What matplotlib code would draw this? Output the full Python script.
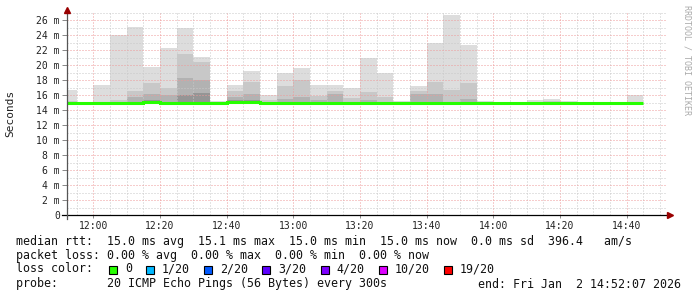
import numpy as np
import matplotlib.pyplot as plt
from matplotlib.patches import Rectangle
from matplotlib.ticker import MultipleLocator, FuncFormatter

plt.rcParams['font.family'] = 'DejaVu Sans Mono'

# 5 minute bins, start time of each bin
bin_start = ['11:50', '11:55', '12:00', '12:05', '12:10', '12:15', '12:20',
             '12:25', '12:30', '12:35', '12:40', '12:45', '12:50', '12:55',
             '13:00', '13:05', '13:10', '13:15', '13:20', '13:25', '13:30',
             '13:35', '13:40', '13:45', '13:50', '13:55', '14:00', '14:05',
             '14:10', '14:15', '14:20', '14:25', '14:30', '14:35', '14:40']
nan = np.nan
# smoke, in ms: lowest ping, highest ping and three inner levels
smoke_lo = [14.7, nan, 15.0, 15.0, 15.0, 15.0, 15.0, 15.0, 15.0, 15.0, 15.0, 15.0,
            14.9, 15.0, 15.0, 15.0, 15.0, 15.0, 15.0, 15.0, 15.0, 15.0, 15.0, 15.0,
            15.0, 15.0, nan, nan, 14.9, 14.7, 15.0, nan, nan, nan, 15.0]
smoke_hi = [16.7, nan, 17.3, 24.0, 25.1, 19.8, 22.3, 25.0, 21.1, 15.2, 17.3, 19.2,
            16.0, 18.9, 19.6, 17.4, 17.4, 17.0, 20.9, 19.0, 15.2, 17.2, 22.9, 26.6,
            22.6, 15.15, nan, nan, 15.35, 15.45, 15.2, nan, nan, nan, 16.0]
band1 = [15.2, nan, nan, 15.3, 16.5, 17.6, 16.9, 21.5, 20.4, nan, 16.5, 17.8,
         15.4, 17.2, 18.0, 15.9, 16.5, 15.6, 16.4, 15.8, nan, 16.5, 17.8, 16.6,
         17.6, nan, nan, nan, nan, 15.2, nan, nan, nan, nan, nan]
band2 = [nan, nan, nan, nan, 15.8, 16.2, 16.0, 18.3, 18.0, nan, 15.7, 16.1,
         nan, 15.5, 15.8, 15.3, 16.1, nan, 15.3, nan, nan, 16.1, 16.1, nan,
         15.5, nan, nan, nan, nan, nan, nan, nan, nan, nan, nan]
band3 = [nan, nan, nan, nan, nan, 15.3, nan, 16.0, 16.3, nan, 15.3, 15.4,
         nan, nan, nan, nan, nan, nan, nan, nan, nan, nan, nan, nan,
         nan, nan, nan, nan, nan, nan, nan, nan, nan, nan, nan]
median = [15.0, 15.0, 15.0, 15.0, 15.0, 15.1, 15.0, 15.0, 15.0, 15.0, 15.1, 15.1,
          15.0, 15.0, 15.0, 15.0, 15.0, 15.0, 15.0, 15.0, 15.0, 15.0, 15.0, 15.0,
          15.0, 15.0, 15.0, 15.0, 15.0, 15.0, 15.0, 15.0, 15.0, 15.0, 15.0]

x_ticks = ['12:00', '12:20', '12:40', '13:00', '13:20', '13:40', '14:00', '14:20', '14:40']
loss_labels = ['0', '1/20', '2/20', '3/20', '4/20', '10/20', '19/20']
loss_colors = ['#26ff00', '#00b8ff', '#0059ff', '#5e00ff', '#7e00ff', '#dd00ff', '#ff0000']

stats_line = 'median rtt:  15.0 ms avg  15.1 ms max  15.0 ms min  15.0 ms now  0.0 ms sd  396.4   am/s'
loss_line = 'packet loss: 0.00 % avg  0.00 % max  0.00 % min  0.00 % now'
probe_line = 'probe:       20 ICMP Echo Pings (56 Bytes) every 300s'
end_line = 'end: Fri Jan  2 14:52:07 2026'


def to_min(s):
    h, m = s.split(':')
    return int(h) * 60 + int(m)


t0 = np.array([to_min(s) for s in bin_start], dtype=float)
edges = np.append(t0, t0[-1] + 5)
lo = np.array(smoke_lo)
hi = np.array(smoke_hi)

W, H = 697, 297
fig = plt.figure(figsize=(W / 100, H / 100), dpi=100)
ax = fig.add_axes([67 / W, (H - 215) / H, 600 / W, 202.5 / H])
xmin = to_min('11:52') + 7 / 60
xmax = xmin + 180
ax.set_xlim(xmin, xmax)
ax.set_ylim(0, 27)

# smoke
ax.bar(t0, hi - lo, bottom=lo, width=5, align='edge', color='#dddddd', linewidth=0, zorder=1)
for lvl, col in [(band1, '#c8c8c8'), (band2, '#b2b2b2'), (band3, '#959595')]:
    lv = np.array(lvl)
    ax.bar(t0, lv - lo, bottom=lo, width=5, align='edge', color=col, linewidth=0, zorder=1)

ax.stairs(median, edges, baseline=None, color='#26ff00', linewidth=2.2, zorder=4)

# grid
ax.xaxis.set_major_locator(MultipleLocator(20))
ax.xaxis.set_minor_locator(MultipleLocator(5))
ax.yaxis.set_major_locator(MultipleLocator(2))
ax.yaxis.set_minor_locator(MultipleLocator(1))
ax.set_xticks([to_min(s) for s in x_ticks])
ax.xaxis.set_major_formatter(FuncFormatter(lambda v, p: f'{int(v) // 60}:{int(v) % 60:02d}'))
ax.yaxis.set_major_formatter(FuncFormatter(lambda v, p: '0' if v == 0 else f'{int(v)} m'))
ax.set_axisbelow(False)
ax.grid(which='minor', color='#c8c8c8', linestyle=(0, (1, 2)), linewidth=0.72)
ax.grid(which='major', color='#ee9a9a', linestyle=(0, (1, 2)), linewidth=0.72)

for s in ax.spines.values():
    s.set_visible(False)
ax.tick_params(axis='y', which='major', length=3.6, width=0.7, color='#888888',
               pad=1.5, labelsize=7, labelcolor='#222222')
ax.tick_params(axis='x', which='major', length=2, width=0.7, color='#888888',
               pad=2, labelsize=7, labelcolor='#222222')
ax.tick_params(which='minor', length=0)

# axis lines with arrows
px = 180 / 600
py = 27 / 202.5
ax.plot([xmin - 5 * px, xmax + 2 * px], [0, 0], color='black', lw=0.9, clip_on=False, zorder=5)
ax.plot([xmin, xmin], [-4 * py, 27 + 2 * py], color='#555555', lw=0.9, clip_on=False, zorder=5)
ax.plot([xmax + 3 * px], [0], marker='>', color='#990000', markersize=4, clip_on=False, zorder=6)
ax.plot([xmin], [27 + 3 * py], marker='^', color='#990000', markersize=4, clip_on=False, zorder=6)

fig.text(10 / W, 1 - 113 / H, 'Seconds', rotation=90, ha='center', va='center',
         fontsize=8, color='#222222')
fig.text(687 / W, 1 - 5 / H, 'RRDTOOL / TOBI OETIKER', rotation=270, ha='center', va='top',
         fontsize=6, color='#aaaaaa')

# legend text
fs = 8.4
cw = 7.05
fig.text(16 / W, 1 - 241 / H, stats_line, fontsize=fs, va='center', color='#111111')
fig.text(16 / W, 1 - 255 / H, loss_line, fontsize=fs, va='center', color='#111111')
fig.text(16 / W, 1 - 269 / H, 'loss color:', fontsize=fs, va='center', color='#111111')
x = 109
for lab, col in zip(loss_labels, loss_colors):
    fig.add_artist(Rectangle((x / W, 1 - 273.5 / H), 8 / W, 8 / H, transform=fig.transFigure,
                             facecolor=col, edgecolor='black', linewidth=0.8))
    fig.text((x + 16) / W, 1 - 269 / H, lab, fontsize=fs, va='center', color='#111111')
    x = x + 16 + len(lab) * cw + 14
fig.text(16 / W, 1 - 284 / H, probe_line, fontsize=fs, va='center', color='#111111')
fig.text(681 / W, 1 - 284 / H, end_line, fontsize=fs, va='center', ha='right', color='#111111')

fig.savefig('out.png', dpi=100)
